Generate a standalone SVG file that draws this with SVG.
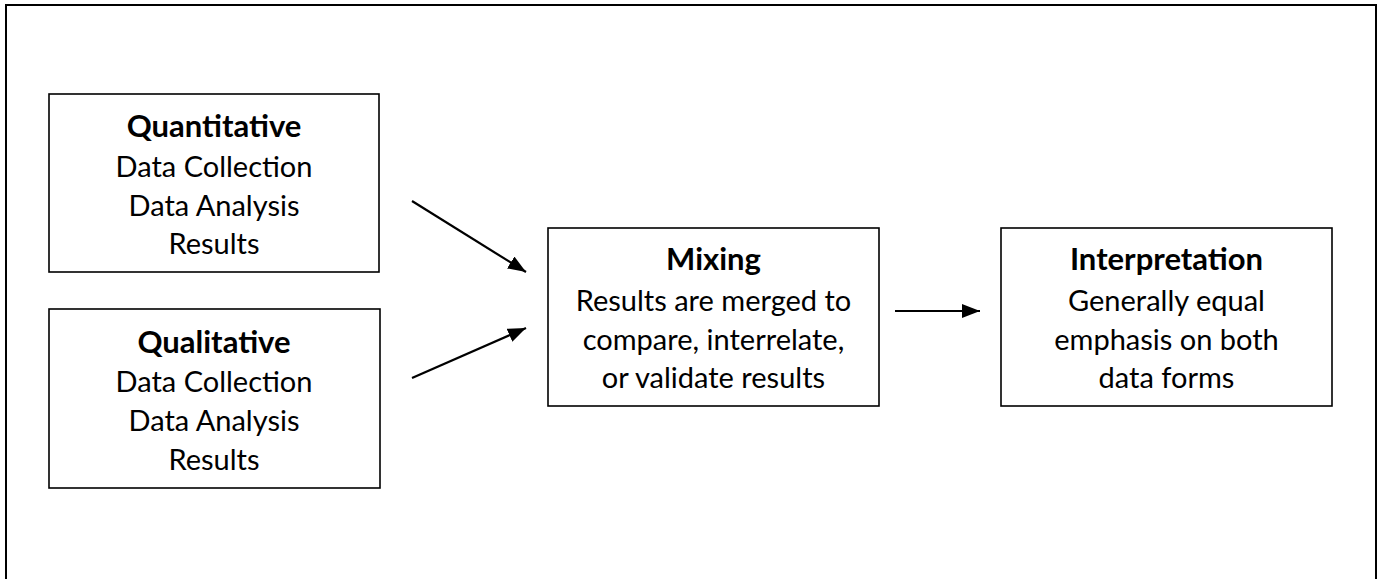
<svg xmlns="http://www.w3.org/2000/svg" width="1383" height="579" viewBox="0 0 1383 579">
<defs>
<style>
.box{fill:#fff;stroke:#000;stroke-width:1.6}
.t{font-family:Lato,"Open Sans","Liberation Sans",sans-serif;font-size:29px;fill:#000;text-anchor:middle}
.b{font-weight:bold;font-size:31px}
.c{stroke:#000;stroke-width:2.2;fill:none}
</style>
<marker id="ah2" viewBox="0 0 18 14" refX="18" refY="7" markerWidth="18" markerHeight="14" orient="auto" markerUnits="userSpaceOnUse">
<path d="M0,0 L18,7 L0,14 z" fill="#000"/>
</marker>
</defs>
<rect width="1383" height="579" fill="#fff"/>
<g id="frame"><path d="M6,600 V5 H1376 V600" fill="none" stroke="#000" stroke-width="2"/></g>
<g id="quantitative">
<rect class="box" x="49" y="94" width="330" height="178"/>
<text class="t b" x="214" y="137">Quantitative</text>
<text class="t" x="214" y="177">Data Collection</text>
<text class="t" x="214" y="216">Data Analysis</text>
<text class="t" x="214" y="254">Results</text>
</g>
<g id="qualitative">
<rect class="box" x="49" y="309" width="331" height="179"/>
<text class="t b" x="214" y="353">Qualitative</text>
<text class="t" x="214" y="392">Data Collection</text>
<text class="t" x="214" y="431">Data Analysis</text>
<text class="t" x="214" y="470">Results</text>
</g>
<g id="mixing">
<rect class="box" x="548" y="228" width="331" height="178"/>
<text class="t b" x="713.5" y="270">Mixing</text>
<text class="t" x="713.5" y="311">Results are merged to</text>
<text class="t" x="713.5" y="350">compare, interrelate,</text>
<text class="t" x="713.5" y="388">or validate results</text>
</g>
<g id="interpretation">
<rect class="box" x="1001" y="228" width="331" height="178"/>
<text class="t b" x="1166.5" y="270">Interpretation</text>
<text class="t" x="1166.5" y="311">Generally equal</text>
<text class="t" x="1166.5" y="350">emphasis on both</text>
<text class="t" x="1166.5" y="388">data forms</text>
</g>
<g id="connectors">
<line class="c" x1="412" y1="201" x2="526" y2="272" marker-end="url(#ah2)"/>
<line class="c" x1="412" y1="378" x2="526" y2="328" marker-end="url(#ah2)"/>
<line class="c" x1="895" y1="311" x2="980" y2="311" marker-end="url(#ah2)"/>
</g>
</svg>
